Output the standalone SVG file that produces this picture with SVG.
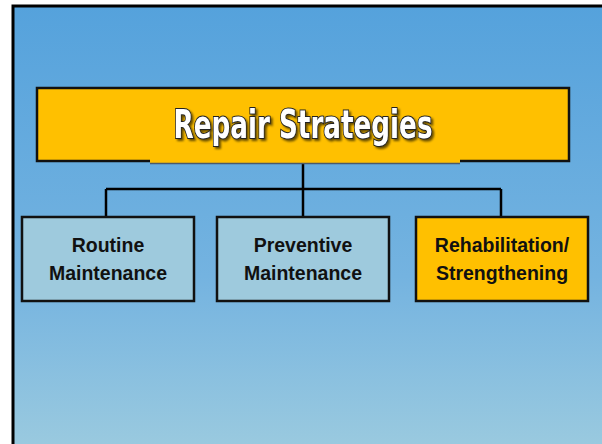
<svg xmlns="http://www.w3.org/2000/svg" width="602" height="444" viewBox="0 0 602 444">
<defs>
<linearGradient id="bg" x1="0" y1="0" x2="0" y2="1">
<stop offset="0" stop-color="#55a2dc"/>
<stop offset="0.6" stop-color="#74b3e0"/>
<stop offset="1" stop-color="#9ccbdf"/>
</linearGradient>
<filter id="sh" x="-10%" y="-20%" width="120%" height="150%">
<feGaussianBlur in="SourceAlpha" stdDeviation="1"/>
<feOffset dx="2" dy="2" result="b"/>
<feFlood flood-color="#000" flood-opacity="0.6"/>
<feComposite in2="b" operator="in"/>
<feMerge><feMergeNode/><feMergeNode in="SourceGraphic"/></feMerge>
</filter>
</defs>
<style>
.box{stroke:#111;stroke-width:2.5}
.light{fill:#9ecadd}
.gold{fill:#ffc000}
.lbl{font-family:"Liberation Sans",Arial,sans-serif;font-weight:bold;font-size:19.5px;fill:#111;text-anchor:middle}
.conn{stroke:#000;stroke-width:2.5;fill:none}
.title{font-family:"Liberation Sans Narrow","DejaVu Sans Condensed","Liberation Sans",sans-serif;font-stretch:condensed;font-weight:bold;font-size:39px;fill:#fff;stroke:#222;stroke-width:2;paint-order:stroke;text-anchor:middle}
</style>
<rect x="0" y="0" width="602" height="444" fill="#fff"/>
<rect x="13" y="6" width="600" height="450" fill="url(#bg)" stroke="#000" stroke-width="3"/>
<g id="connectors">
<path class="conn" d="M303 163 V217"/>
<path class="conn" d="M106 189 H501"/>
<path class="conn" d="M106 189 V217"/>
<path class="conn" d="M501 189 V217"/>
</g>
<g id="title">
<rect class="box gold" x="37" y="88" width="532" height="73"/>
<rect x="150" y="159" width="310" height="4" fill="#ffc000"/>
<path d="M150 163.5 H460" stroke="#4a5a6a" stroke-width="1.5"/>
<text class="title" x="303" y="138" textLength="259" lengthAdjust="spacingAndGlyphs" filter="url(#sh)">Repair Strategies</text>
</g>
<g id="routine">
<rect class="box light" x="22" y="217" width="172" height="84"/>
<text class="lbl" x="108" y="252">Routine</text>
<text class="lbl" x="108" y="280">Maintenance</text>
</g>
<g id="preventive">
<rect class="box light" x="217" y="217" width="172" height="84"/>
<text class="lbl" x="303" y="252">Preventive</text>
<text class="lbl" x="303" y="280">Maintenance</text>
</g>
<g id="rehab">
<rect class="box gold" x="416" y="217" width="172" height="84"/>
<text class="lbl" x="502" y="252">Rehabilitation/</text>
<text class="lbl" x="502" y="280">Strengthening</text>
</g>
</svg>
